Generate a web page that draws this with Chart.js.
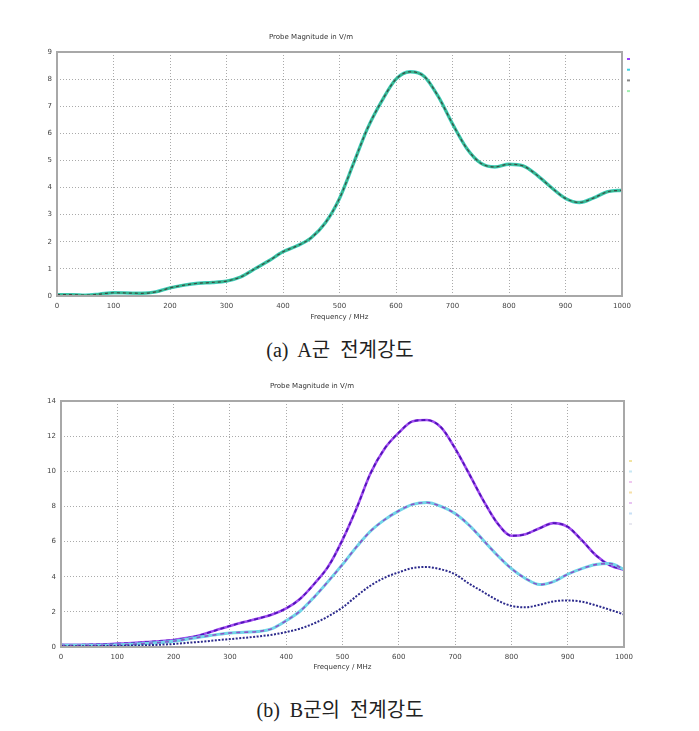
<!DOCTYPE html>
<html>
<head>
<meta charset="utf-8">
<script src="https://cdn.jsdelivr.net/npm/chart.js@4.4.1/dist/chart.umd.min.js"></script>
<style>
  body { margin: 0; background: #fff; width: 699px; height: 731px; position: relative; overflow: hidden; }
  canvas { position: absolute; left: 0; }
  .cap { position: absolute; left: 0; width: 680px; text-align: center; font-size: 20px; line-height: 24px;
         font-family: "Liberation Serif", "Noto Sans CJK KR", serif; color: #222; }
</style>
</head>
<body>
<canvas id="chartA" width="699" height="335" style="top:0px"></canvas>
<div class="cap" style="top:338px">(a)&nbsp; A군&nbsp; 전계강도</div>
<canvas id="chartB" width="699" height="335" style="top:350px"></canvas>
<div class="cap" style="top:698px">(b)&nbsp; B군의&nbsp; 전계강도</div>
<script>
// frequency points (MHz), shared by all curves
const freq = [0, 25, 50, 75, 100, 125, 150, 175, 200, 225, 250, 275, 300, 325, 350, 375, 400,
  425, 450, 475, 500, 525, 550, 575, 600, 625, 650, 675, 700, 725, 750, 775, 800,
  825, 850, 875, 900, 925, 950, 975, 1000];

// (a) A group field strength, V/m
const groupA = [0.05, 0.05, 0.03, 0.07, 0.12, 0.11, 0.1, 0.15, 0.3, 0.4, 0.47, 0.5, 0.55, 0.7, 1.0, 1.3, 1.63,
  1.85, 2.15, 2.7, 3.6, 4.9, 6.2, 7.2, 8.0, 8.27, 8.1, 7.35, 6.35, 5.45, 4.9, 4.76, 4.86,
  4.8, 4.45, 4.0, 3.6, 3.45, 3.62, 3.85, 3.9];

// (b) B group field strength, V/m
const groupBHigh = [0.13, 0.12, 0.14, 0.15, 0.19, 0.22, 0.28, 0.33, 0.4, 0.52, 0.7, 0.95, 1.2, 1.42, 1.62, 1.85, 2.2,
  2.75, 3.6, 4.6, 6.1, 7.9, 9.9, 11.3, 12.2, 12.85, 12.92, 12.5, 11.3, 9.85, 8.35, 7.05, 6.33,
  6.42, 6.76, 7.05, 6.84, 6.08, 5.22, 4.65, 4.4];
const groupBMid = [0.1, 0.1, 0.1, 0.1, 0.12, 0.15, 0.2, 0.26, 0.33, 0.45, 0.58, 0.7, 0.8, 0.84, 0.88, 1.05, 1.5,
  2.05, 2.85, 3.75, 4.7, 5.7, 6.6, 7.25, 7.75, 8.12, 8.22, 8.0, 7.6, 6.93, 6.08, 5.22, 4.46,
  3.9, 3.55, 3.72, 4.14, 4.46, 4.69, 4.75, 4.42];
const groupBLow = [0.04, 0.04, 0.04, 0.05, 0.06, 0.08, 0.1, 0.13, 0.17, 0.24, 0.3, 0.38, 0.45, 0.52, 0.6, 0.7, 0.85,
  1.05, 1.35, 1.75, 2.25, 2.9, 3.5, 3.95, 4.25, 4.5, 4.55, 4.42, 4.14, 3.6, 3.13, 2.66, 2.34,
  2.26, 2.4, 2.6, 2.65, 2.58, 2.37, 2.12, 1.85];

const xTicks = [0, 100, 200, 300, 400, 500, 600, 700, 800, 900, 1000];

function pts(values) {
  return values.map((v, i) => ({ x: freq[i], y: v }));
}

// order: lower number is drawn on top
function line(values, color, width, dash, order) {
  return {
    data: pts(values),
    borderColor: color,
    borderWidth: width,
    borderDash: dash || [],
    pointRadius: 0,
    cubicInterpolationMode: "monotone",
    fill: false,
    order: order,
  };
}

// solid grey frame round the plot area, plus the tiny legend marks on the right
const framePlugin = {
  id: "frame",
  afterDraw(chart, args, opts) {
    const { ctx, chartArea: a } = chart;
    ctx.save();
    ctx.strokeStyle = "#a8a8a8";
    ctx.lineWidth = 2;
    ctx.strokeRect(a.left, a.top, a.right - a.left, a.bottom - a.top);
    (opts.marks || []).forEach((c, i) => {
      ctx.fillStyle = c;
      ctx.fillRect(a.right + 5, a.top + opts.markTop + i * opts.markGap, 3, 2);
    });
    ctx.restore();
  },
};

function makeChart(id, datasets, yMax, yStep, g, marks) {
  const tickFont = { family: "DejaVu Sans", size: 7 };
  return new Chart(document.getElementById(id), {
    type: "line",
    data: { datasets: datasets },
    options: {
      responsive: false,
      animation: false,
      devicePixelRatio: 1,
      layout: { padding: { left: 0, right: 699 - g.right, top: g.titleY - 4.2, bottom: 0 } },
      plugins: {
        legend: { display: false },
        tooltip: { enabled: false },
        title: {
          display: true,
          text: "Probe Magnitude in V/m",
          color: "#333",
          font: { family: "DejaVu Sans", size: 7, weight: "normal" },
          padding: { top: 0, bottom: g.top - g.titleY - 4.2 },
        },
        frame: { marks: marks.colors, markTop: marks.top, markGap: marks.gap },
      },
      scales: {
        x: {
          type: "linear",
          min: 0,
          max: 1000,
          afterBuildTicks: (s) => { s.ticks = xTicks.map((v) => ({ value: v })); },
          afterFit: (s) => { s.height = 335 - g.bottom; },
          grid: { color: "#aaaaaa", lineWidth: 1, drawTicks: false },
          border: { display: false, dash: [1, 2] },
          ticks: { color: "#444", font: tickFont, padding: 6, maxRotation: 0, callback: (v) => String(v) },
          title: {
            display: true,
            text: "Frequency / MHz",
            color: "#333",
            font: { family: "DejaVu Sans", size: 7 },
            padding: { top: 0, bottom: 335 - g.xTitleY - 4.2 },
          },
        },
        y: {
          min: 0,
          max: yMax,
          afterFit: (s) => { s.width = g.left; },
          grid: { color: "#aaaaaa", lineWidth: 1, drawTicks: false },
          border: { display: false, dash: [1, 2] },
          ticks: { stepSize: yStep, color: "#444", font: tickFont, padding: 5 },
        },
      },
    },
    plugins: [framePlugin],
  });
}

makeChart("chartA", [
  line(groupA, "#48d0c4", 3.4, null, 3),
  line(groupA, "#36b890", 2.2, null, 2),
  line(groupA, "#3d4a44", 1.2, [3, 3], 1),
], 9, 1, { left: 57, right: 622, top: 52, bottom: 296, titleY: 37, xTitleY: 317 },
  { colors: ["#9a40ff", "#40d0e0", "#888888", "#a0f0b0"], top: 6, gap: 10.7 });

makeChart("chartB", [
  line(groupBLow, "#2c2a8c", 2, [2, 1.5], 1),
  line(groupBMid, "#72d6e8", 3, null, 3),
  line(groupBMid, "#8c52c8", 1.6, [4, 4], 2),
  line(groupBHigh, "#a04cf0", 2.6, null, 5),
  line(groupBHigh, "#5214b8", 1.8, [4, 3], 4),
], 14, 2, { left: 61, right: 624, top: 51, bottom: 297, titleY: 36, xTitleY: 317 },
  { colors: ["#f2e4a0", "#c8e8f4", "#f0c8f0", "#f6e0a8", "#e8c4f2", "#c8e0f6", "#e8e8f0"], top: 59, gap: 10.5 });
</script>
</body>
</html>
